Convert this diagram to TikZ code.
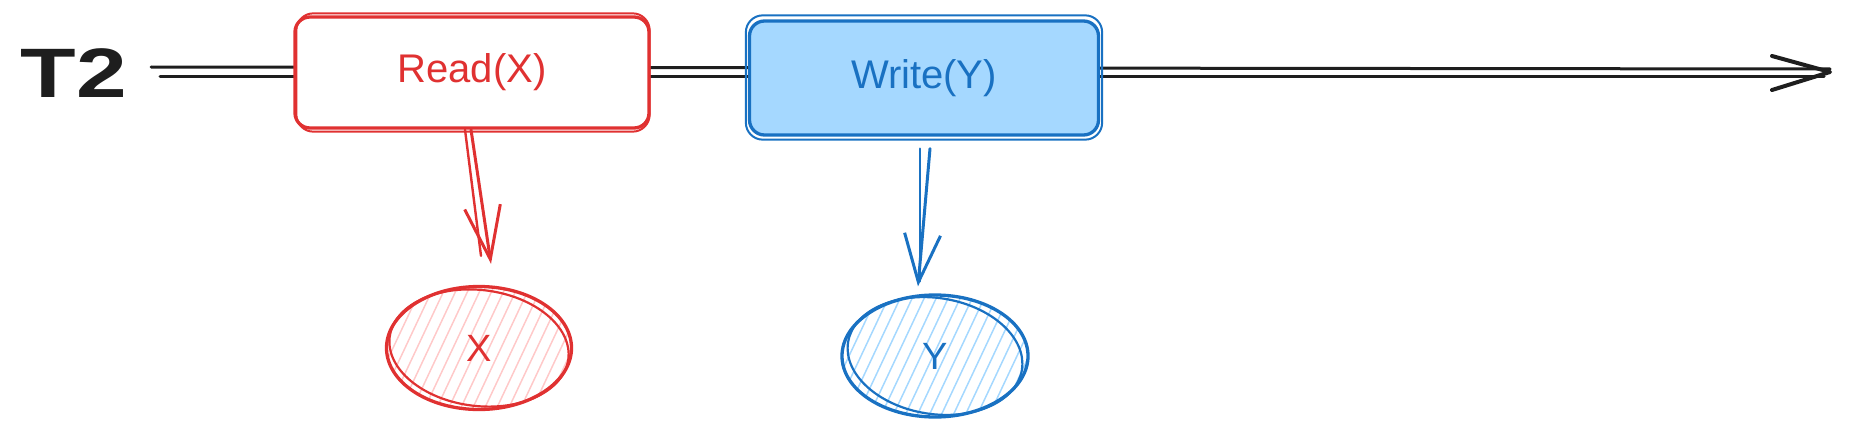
\documentclass[tikz,border=0pt]{standalone}
\usepackage{fontspec}
\setmainfont{Liberation Sans}
\usetikzlibrary{arrows.meta,calc,shapes.geometric}
\definecolor{ink}{HTML}{1E1E1E}
\definecolor{rd}{HTML}{E03131}
\definecolor{rdfill}{HTML}{FFC9C9}
\definecolor{bl}{HTML}{1971C2}
\definecolor{blfill}{HTML}{A5D8FF}
\begin{document}
\begin{tikzpicture}[x=1pt,y=-1pt,
  opbox/.style={draw=#1, line width=3.3pt, rounded corners=15pt, inner sep=0pt, text=#1,
    font=\fontsize{40}{44}\selectfont},
  sketch/.style={draw=#1, line width=2pt, rounded corners=17pt},
  blob/.style={ellipse, draw=#1, line width=3.3pt, inner sep=0pt, text=#1,
    font=\fontsize{38}{42}\selectfont},
  hatch/.style={path picture={
      \foreach \i in {-170,-158,...,170}
        \draw[#1, line width=1.5pt]
          ([shift={(\i-40,85)}]path picture bounding box.center) -- ++(80,-170);}},
  link/.style={draw=#1, line width=3pt, line cap=round, line join=round},
  tline/.style={draw=ink, line width=3pt, line cap=round},
]
\useasboundingbox (0,0) rectangle (1849,436);

% label
\node[font=\bfseries\fontsize{70}{80}\selectfont, text=ink, inner sep=0pt] (t2) at (74,73) {\scalebox{1.3}[1]{T2}};

% timeline (drawn first, boxes cover it)
\coordinate (tls) at (151,71.5);
\coordinate (tle) at (1830,72);
\draw[tline] ([shift={(0,-4.5)}]tls) -- ([shift={(0,-3)}]tle);
\draw[tline] ([shift={(9,4.5)}]tls) -- ([shift={(-6,4)}]tle);
\draw[tline, line width=4pt, line join=round] ($(tle)+(-58,-16)$) -- (tle) -- ($(tle)+(-58,18)$);

% operation boxes
\node[opbox=rd, fill=white, minimum width=354pt, minimum height=111pt] (rb) at (472,72.5) {Read(X)};
\draw[sketch=rd] ([shift={(3,-2)}]rb.north west) rectangle ([shift={(-1,2)}]rb.south east);

\node[opbox=bl, fill=blfill, minimum width=349pt, minimum height=114pt] (wb) at (924,78) {Write(Y)};
\draw[sketch=bl] ([shift={(-2,-4)}]wb.north west) rectangle ([shift={(2,3)}]wb.south east);

% data items
\node[blob=rd, hatch=rdfill, minimum width=185pt, minimum height=123pt] (cx) at (479,348) {X};
\draw[rd, line width=2.2pt, rotate around={-7:(cx.center)}] (cx.center) ellipse [x radius=90, y radius=58];

\node[blob=bl, hatch=blfill, minimum width=186pt, minimum height=122pt] (cy) at (935,356) {Y};
\draw[bl, line width=2.2pt, rotate around={-9:(cy.center)}] (cy.center) ellipse [x radius=88, y radius=58];

% connectors
\draw[link=rd, -{Straight Barb[length=53pt, width=36pt]}] ([xshift=-1]rb.south) -- ([shift={(12,-21)}]cx.north);
\draw[link=rd, line width=2.4pt] ([xshift=-7]rb.south) -- ([shift={(2,-29)}]cx.north);

\draw[link=bl, -{Straight Barb[length=48pt, width=36pt]}] ([shift={(6,12)}]wb.south) -- ([shift={(-17,-7)}]cy.north);
\draw[link=bl, line width=2.4pt] ([shift={(-4,12)}]wb.south) -- ([shift={(-15,-12)}]cy.north);
\end{tikzpicture}
\end{document}
